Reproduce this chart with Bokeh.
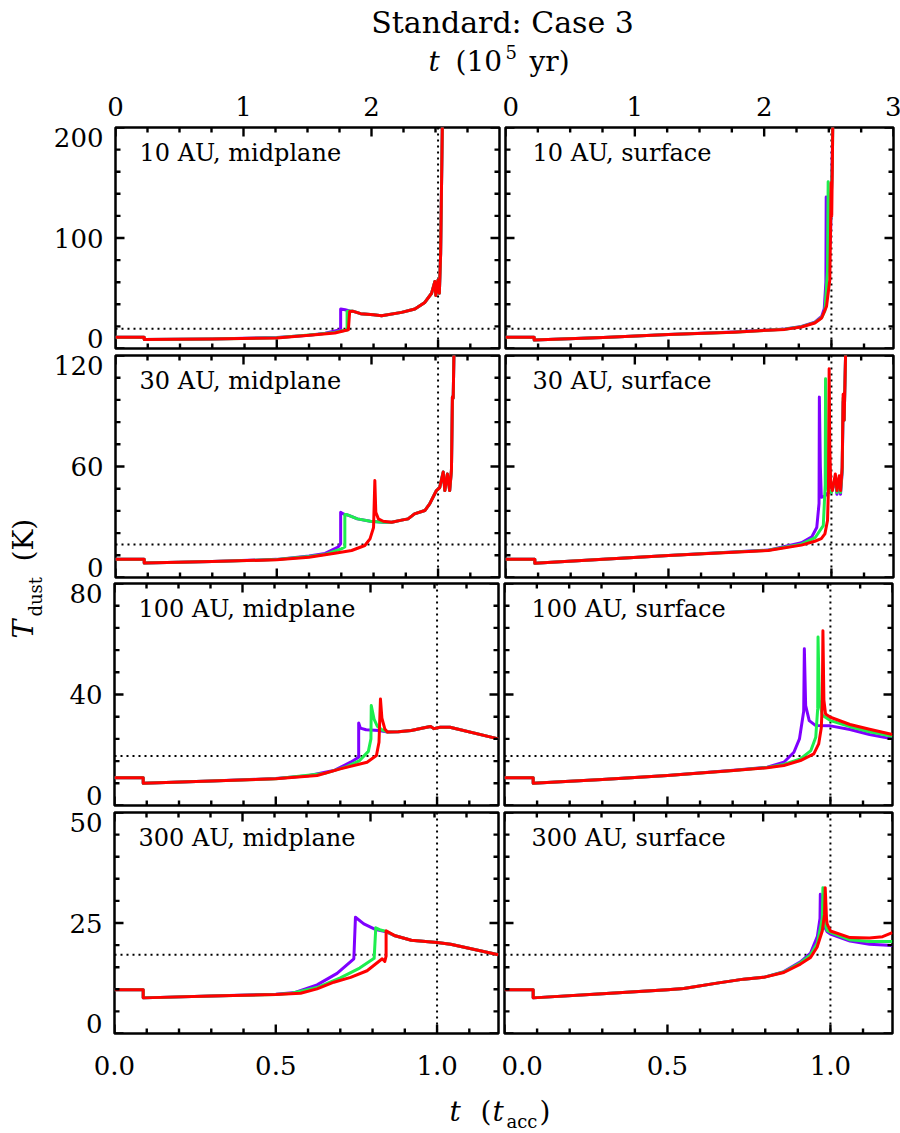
from math import pi, nan
from bokeh.plotting import figure
from bokeh.models import Range1d, FixedTicker, LinearAxis, Label, Span, PrintfTickFormatter, BoxAnnotation
from bokeh.layouts import column, row
from bokeh.embed import file_html
from bokeh.resources import INLINE

FONT = "DejaVu Serif"
PURPLE, GREEN, RED = "#7f00ff", "#1eee4e", "#ff0000"

# ---------------- axis definitions ----------------
t_acc_in_1e5yr = 2.52          # 1 t_acc in units of 1e5 yr
t_max_1e5yr = 3.0              # right end of each panel (1e5 yr)
t_ref = 1.0                    # vertical dotted line (t_acc)
T_ref = 17.8                   # horizontal dotted line (K)
radii = ["10 AU", "30 AU", "100 AU", "300 AU"]
layers = ["midplane", "surface"]
y_max = [200, 120, 80, 50]
y_major = [100, 60, 40, 25]
xticks_tacc = [0.0, 0.5, 1.0]
xticks_yr = [[0, 1, 2], [0, 1, 2, 3]]

# ---------------- data (t in t_acc, T_dust in K) ----------------
# 10 AU, midplane
t_10m_p = [0, 0.089, 0.089, 0.30, 0.50, 0.60, 0.65, 0.69, 0.698, 0.698, 0.712, 0.726, 0.735, 0.76, 0.80, 0.825, 0.887, 0.928, 0.959, 0.980, 0.990, 0.993, 1.000, 1.004, 1.008, 1.010, 1.013, 1.016]
T_10m_p = [10.2, 10.2, 8.1, 8.7, 9.9, 12.0, 13.8, 16.5, 17.0, 35.7, 35.0, 34.0, 33.8, 31.5, 30.5, 29.7, 32.7, 35.7, 41.7, 50.0, 60.6, 48.0, 62.0, 50.0, 86.0, 131.0, 197.0, 260.0]
t_10m_g = [0, 0.089, 0.089, 0.30, 0.50, 0.628, 0.68, 0.70, 0.718, 0.718, 0.726, 0.735, 0.76, 0.80, 0.825, 0.887, 0.928, 0.959, 0.980, 0.990, 0.993, 1.000, 1.004, 1.008, 1.010, 1.013, 1.016]
T_10m_g = [10.2, 10.2, 8.1, 8.6, 9.7, 12.8, 14.6, 15.8, 16.8, 33.5, 34.0, 33.8, 31.5, 30.5, 29.7, 32.7, 35.7, 41.7, 50.0, 60.6, 48.0, 62.0, 50.0, 86.0, 131.0, 197.0, 260.0]
t_10m_r = [0, 0.089, 0.089, 0.30, 0.50, 0.628, 0.68, 0.722, 0.726, 0.735, 0.76, 0.80, 0.825, 0.887, 0.928, 0.959, 0.980, 0.990, 0.993, 1.000, 1.004, 1.008, 1.010, 1.013, 1.016]
T_10m_r = [10.2, 10.2, 8.1, 8.6, 9.6, 12.6, 14.1, 17.0, 33.5, 33.8, 31.5, 30.5, 29.7, 32.7, 35.7, 41.7, 50.0, 60.6, 48.0, 62.0, 50.0, 86.0, 131.0, 197.0, 260.0]

# 10 AU, surface
t_10s_p = [0, 0.088, 0.088, 0.30, 0.50, 0.70, 0.857, 0.908, 0.949, 0.970, 0.978, 0.983, 0.984, 0.986, 0.990, 0.997, 1.003, 1.006]
T_10s_p = [10.2, 10.2, 7.8, 10.0, 12.6, 14.9, 17.6, 20.0, 23.8, 29.0, 36.0, 60.0, 137.0, 100.0, 80.0, 100.0, 180.0, 260.0]
t_10s_g = [0, 0.088, 0.088, 0.30, 0.50, 0.70, 0.857, 0.908, 0.949, 0.970, 0.980, 0.988, 0.990, 0.992, 0.997, 1.003, 1.006]
T_10s_g = [10.2, 10.2, 7.8, 10.0, 12.6, 14.8, 17.4, 19.8, 23.4, 28.0, 34.0, 70.0, 151.0, 110.0, 110.0, 170.0, 260.0]
t_10s_r = [0, 0.088, 0.088, 0.30, 0.50, 0.70, 0.857, 0.908, 0.949, 0.970, 0.985, 0.995, 0.997, 0.999, 1.001, 1.003, 1.006]
T_10s_r = [10.2, 10.2, 7.8, 10.0, 12.6, 14.8, 17.3, 19.5, 23.1, 27.6, 38.1, 62.0, 100.0, 150.0, 120.0, 170.0, 260.0]

# 30 AU, midplane
t_30m_p = [0, 0.089, 0.089, 0.30, 0.50, 0.60, 0.65, 0.69, 0.698, 0.698, 0.705, 0.712, 0.725, 0.75, 0.79, 0.83, 0.856, 0.887, 0.907, 0.927, 0.959, 0.974, 0.995, 1.005, 1.016, 1.021, 1.029, 1.036, 1.0415, 1.0445, 1.047, 1.050]
T_30m_p = [9.9, 9.9, 7.9, 8.6, 9.8, 11.6, 13.0, 16.5, 18.2, 35.3, 34.5, 34.0, 33.5, 31.7, 30.4, 29.9, 29.9, 31.0, 31.7, 34.4, 36.2, 39.8, 47.0, 48.6, 57.0, 47.0, 56.0, 47.0, 58.0, 97.5, 97.0, 130.0]
t_30m_g = [0, 0.089, 0.089, 0.30, 0.50, 0.60, 0.65, 0.70, 0.711, 0.711, 0.718, 0.725, 0.75, 0.79, 0.83, 0.856, 0.887, 0.907, 0.927, 0.959, 0.974, 0.995, 1.005, 1.016, 1.021, 1.029, 1.036, 1.0415, 1.0445, 1.047, 1.050]
T_30m_g = [9.9, 9.9, 7.9, 8.6, 9.7, 11.4, 12.5, 15.5, 16.5, 34.0, 34.0, 33.5, 31.7, 30.4, 29.9, 29.9, 31.0, 31.7, 34.4, 36.2, 39.8, 47.0, 48.6, 57.0, 47.0, 56.0, 47.0, 58.0, 97.5, 97.0, 130.0]
t_30m_r = [0, 0.089, 0.089, 0.30, 0.50, 0.60, 0.68, 0.732, 0.773, 0.789, 0.800, 0.804, 0.807, 0.815, 0.830, 0.856, 0.887, 0.907, 0.927, 0.959, 0.974, 0.995, 1.005, 1.016, 1.021, 1.029, 1.036, 1.0415, 1.0445, 1.047, 1.050]
T_30m_r = [9.9, 9.9, 7.9, 8.6, 9.6, 11.0, 13.1, 14.6, 17.3, 20.9, 27.0, 52.4, 35.3, 31.7, 30.4, 29.9, 31.0, 31.7, 34.4, 36.2, 39.8, 47.0, 48.6, 57.0, 47.0, 56.0, 47.0, 58.0, 97.5, 97.0, 130.0]

# 30 AU, surface
t_30s_p = [0, 0.09, 0.09, 0.30, 0.50, 0.806, 0.908, 0.940, 0.955, 0.962, 0.963, 0.966, 0.969, 0.980, 0.990, 1.000, 1.012, 1.017, 1.024, 1.028, 1.033, 1.036, 1.039, 1.044]
T_30s_p = [9.9, 9.9, 7.7, 9.8, 11.9, 14.8, 18.8, 22.0, 27.0, 40.0, 97.5, 60.0, 43.4, 44.0, 46.0, 46.0, 53.0, 45.0, 53.0, 45.0, 57.0, 95.0, 85.0, 125.0]
t_30s_g = [0, 0.09, 0.09, 0.30, 0.50, 0.806, 0.908, 0.950, 0.975, 0.981, 0.982, 0.985, 0.990, 1.000, 1.012, 1.017, 1.024, 1.028, 1.033, 1.036, 1.039, 1.044]
T_30s_g = [9.9, 9.9, 7.7, 9.8, 11.9, 14.7, 18.0, 21.5, 28.0, 50.0, 107.4, 60.0, 47.0, 46.0, 54.0, 46.0, 54.0, 46.0, 58.0, 97.0, 85.0, 125.0]
t_30s_r = [0, 0.09, 0.09, 0.30, 0.50, 0.806, 0.908, 0.949, 0.969, 0.980, 0.988, 0.991, 0.993, 0.995, 0.998, 1.003, 1.012, 1.017, 1.024, 1.028, 1.033, 1.036, 1.039, 1.044]
T_30s_r = [9.9, 9.9, 7.7, 9.8, 11.9, 14.6, 17.5, 19.6, 21.0, 23.6, 30.8, 48.6, 112.8, 70.0, 50.0, 47.0, 56.0, 47.0, 55.0, 47.0, 59.5, 99.0, 85.0, 125.0]

# 100 AU, midplane
t_100m_p = [0, 0.089, 0.089, 0.30, 0.50, 0.60, 0.68, 0.732, 0.757, 0.757, 0.762, 0.78, 0.82, 0.846, 0.88, 0.92, 0.96, 0.98, 0.99, 1.01, 1.04, 1.19]
T_100m_p = [10.0, 10.0, 8.0, 8.8, 9.7, 10.7, 12.6, 15.6, 17.4, 29.7, 27.9, 27.3, 27.0, 26.5, 26.6, 27.0, 28.0, 28.5, 27.7, 28.2, 28.2, 24.0]
t_100m_g = [0, 0.089, 0.089, 0.30, 0.50, 0.65, 0.72, 0.76, 0.787, 0.795, 0.796, 0.805, 0.815, 0.83, 0.846, 0.88, 0.92, 0.96, 0.98, 0.99, 1.01, 1.04, 1.19]
T_100m_g = [10.0, 10.0, 8.0, 8.8, 9.6, 11.5, 14.0, 16.2, 19.5, 24.0, 36.0, 31.0, 28.5, 27.2, 26.5, 26.6, 27.0, 28.0, 28.5, 27.7, 28.2, 28.2, 24.0]
t_100m_r = [0, 0.089, 0.089, 0.30, 0.50, 0.628, 0.70, 0.783, 0.812, 0.820, 0.8245, 0.829, 0.838, 0.846, 0.88, 0.92, 0.96, 0.98, 0.99, 1.01, 1.04, 1.19]
T_100m_r = [10.0, 10.0, 8.0, 8.8, 9.6, 10.8, 13.2, 15.6, 18.0, 22.8, 38.4, 31.5, 27.6, 26.5, 26.6, 27.0, 28.0, 28.5, 27.7, 28.2, 28.2, 24.0]

# 100 AU, surface
t_100s_p = [0, 0.088, 0.088, 0.30, 0.50, 0.703, 0.806, 0.857, 0.888, 0.905, 0.918, 0.920, 0.924, 0.935, 0.955, 1.00, 1.06, 1.12, 1.19]
T_100s_p = [10.0, 10.0, 8.0, 9.4, 10.8, 12.7, 13.8, 15.6, 19.2, 24.0, 34.0, 56.5, 36.0, 30.6, 28.8, 28.7, 27.4, 25.6, 24.0]
t_100s_g = [0, 0.088, 0.088, 0.30, 0.50, 0.703, 0.806, 0.857, 0.908, 0.940, 0.955, 0.961, 0.962, 0.966, 0.975, 1.00, 1.06, 1.12, 1.19]
T_100s_g = [10.0, 10.0, 8.0, 9.4, 10.8, 12.6, 13.7, 14.8, 16.8, 19.8, 24.6, 35.0, 60.7, 38.0, 32.5, 30.6, 28.4, 26.6, 24.9]
t_100s_r = [0, 0.088, 0.088, 0.30, 0.50, 0.703, 0.806, 0.857, 0.908, 0.949, 0.964, 0.972, 0.975, 0.977, 0.980, 0.985, 1.00, 1.06, 1.12, 1.19]
T_100s_r = [10.0, 10.0, 8.0, 9.4, 10.8, 12.6, 13.6, 14.4, 16.2, 18.6, 22.2, 28.0, 36.6, 63.0, 38.0, 33.0, 31.8, 29.2, 27.5, 25.6]

# 300 AU, midplane
t_300m_p = [0, 0.089, 0.089, 0.30, 0.50, 0.56, 0.628, 0.69, 0.742, 0.747, 0.773, 0.81, 0.842, 0.87, 0.92, 1.00, 1.042, 1.19]
T_300m_p = [9.9, 9.9, 8.06, 8.5, 8.9, 9.3, 11.0, 13.6, 16.9, 26.3, 24.8, 23.5, 23.0, 22.1, 21.1, 20.6, 20.2, 17.8]
t_300m_g = [0, 0.089, 0.089, 0.30, 0.50, 0.55, 0.628, 0.70, 0.76, 0.805, 0.81, 0.825, 0.842, 0.87, 0.92, 1.00, 1.042, 1.19]
T_300m_g = [9.9, 9.9, 8.06, 8.5, 8.8, 9.1, 10.4, 12.6, 14.8, 17.0, 23.9, 23.4, 23.1, 22.1, 21.1, 20.6, 20.2, 17.8]
t_300m_r = [0, 0.089, 0.089, 0.30, 0.50, 0.577, 0.628, 0.68, 0.732, 0.783, 0.830, 0.838, 0.842, 0.842, 0.87, 0.92, 1.00, 1.042, 1.19]
T_300m_r = [9.9, 9.9, 8.06, 8.5, 8.8, 9.1, 10.1, 11.6, 12.7, 14.2, 16.9, 16.3, 17.5, 23.25, 22.1, 21.1, 20.6, 20.2, 17.8]

# 300 AU, surface
t_300s_p = [0, 0.088, 0.088, 0.30, 0.50, 0.55, 0.652, 0.734, 0.795, 0.857, 0.908, 0.939, 0.960, 0.968, 0.969, 0.975, 0.990, 1.00, 1.06, 1.12, 1.19]
T_300s_p = [9.9, 9.9, 8.06, 9.0, 9.9, 10.2, 11.4, 12.3, 12.7, 14.0, 16.2, 18.2, 22.0, 26.0, 31.5, 25.0, 23.0, 22.5, 20.9, 20.2, 19.9]
t_300s_g = [0, 0.088, 0.088, 0.30, 0.50, 0.55, 0.652, 0.734, 0.795, 0.857, 0.908, 0.939, 0.960, 0.975, 0.977, 0.982, 0.990, 1.00, 1.06, 1.12, 1.19]
T_300s_g = [9.9, 9.9, 8.06, 9.0, 9.9, 10.2, 11.4, 12.3, 12.7, 13.9, 16.0, 17.8, 20.5, 26.0, 33.0, 25.0, 23.3, 22.9, 21.2, 20.8, 20.8]
t_300s_r = [0, 0.088, 0.088, 0.30, 0.50, 0.55, 0.652, 0.734, 0.795, 0.857, 0.908, 0.939, 0.959, 0.975, 0.982, 0.984, 0.988, 0.990, 1.00, 1.06, 1.12, 1.16, 1.19]
T_300s_r = [9.9, 9.9, 8.06, 9.0, 9.9, 10.2, 11.4, 12.3, 12.7, 13.8, 15.7, 17.2, 19.5, 23.2, 27.0, 33.0, 26.0, 24.8, 23.2, 21.7, 21.6, 21.9, 22.8]

panels = [
    [[(t_10m_p, T_10m_p), (t_10m_g, T_10m_g), (t_10m_r, T_10m_r)],
     [(t_10s_p, T_10s_p), (t_10s_g, T_10s_g), (t_10s_r, T_10s_r)]],
    [[(t_30m_p, T_30m_p), (t_30m_g, T_30m_g), (t_30m_r, T_30m_r)],
     [(t_30s_p, T_30s_p), (t_30s_g, T_30s_g), (t_30s_r, T_30s_r)]],
    [[(t_100m_p, T_100m_p), (t_100m_g, T_100m_g), (t_100m_r, T_100m_r)],
     [(t_100s_p, T_100s_p), (t_100s_g, T_100s_g), (t_100s_r, T_100s_r)]],
    [[(t_300m_p, T_300m_p), (t_300m_g, T_300m_g), (t_300m_r, T_300m_r)],
     [(t_300s_p, T_300s_p), (t_300s_g, T_300s_g), (t_300s_r, T_300s_r)]],
]

# ---------------- layout geometry (pixels) ----------------
YLAB_W = 50
FRAME_W = [384, 388]
FRAME_H = [221, 222, 222, 221]
BORDER_L = [64, 3]
BORDER_R = [3, 8]
BORDER_T = [47, 4, 3, 4]
BORDER_B = [3, 3, 3, 58]
HEADER_H = 80
FOOTER_H = 1133 - HEADER_H - sum(FRAME_H) - sum(BORDER_T) - sum(BORDER_B)
TICK_FS = "26px"
MAJ_LEN, MIN_LEN, TICK_W = 9, 5, 2.4
BASE_FIX = 0.35   # text box offset of alphabetic labels, in em


def label_axis(ticker, standoff, **kw):
    return LinearAxis(ticker=ticker, axis_line_color=None,
                      major_tick_in=0, major_tick_out=0, minor_tick_in=0, minor_tick_out=0,
                      major_tick_line_color=None, minor_tick_line_color=None,
                      major_label_text_font=FONT, major_label_text_font_size=TICK_FS,
                      major_label_text_color="black", major_label_standoff=standoff, **kw)


def tick_box(p, left, right, bottom, top):
    p.add_layout(BoxAnnotation(left=left, right=right, bottom=bottom, top=top,
                               fill_color="black", fill_alpha=1.0, line_color=None,
                               level="overlay", editable=False))


def make_panel(ri, ci):
    fw, fh = FRAME_W[ci], FRAME_H[ri]
    xmax = t_max_1e5yr / t_acc_in_1e5yr
    ymax, ymaj = y_max[ri], y_major[ri]
    p = figure(frame_width=fw, frame_height=fh, title=None,
               min_border_left=BORDER_L[ci], min_border_right=BORDER_R[ci],
               min_border_top=BORDER_T[ri], min_border_bottom=BORDER_B[ri],
               x_range=Range1d(0, xmax), y_range=Range1d(0, ymax),
               x_axis_type=None, y_axis_type=None,
               output_backend="svg", toolbar_location=None)
    p.extra_x_ranges = {"yr": Range1d(0, t_max_1e5yr)}
    p.outline_line_color = "black"
    p.outline_line_width = 2.5
    p.background_fill_color = "white"
    p.border_fill_color = "white"

    # reference lines
    p.add_layout(Span(location=t_ref, dimension="height", line_color="black",
                      line_width=2, line_dash="2 4", level="underlay"))
    p.add_layout(Span(location=T_ref, dimension="width", line_color="black",
                      line_width=2, line_dash="2 4", level="underlay"))

    for (t, Tv), c in zip(panels[ri][ci], [PURPLE, GREEN, RED]):
        p.line(t, Tv, line_color=c, line_width=3, line_join="round")

    # inward tick marks on all four sides, placed in data units
    px = xmax / fw            # data units per pixel (x)
    py = ymax / fh            # data units per pixel (y)
    hw = TICK_W / 2
    xmin_ticks = [round(0.1 * k, 2) for k in range(1, 12) if k % 5]
    tmin_ticks = [0.25 * k for k in range(1, 12) if k % 4]
    ymin_ticks = [ymaj / 5 * k for k in range(1, 10) if k % 5]
    for ticks, ln in ((xticks_tacc, MAJ_LEN), (xmin_ticks, MIN_LEN)):
        for v in ticks:
            tick_box(p, v - hw * px, v + hw * px, 0, ln * py)
    for ticks, ln in ((xticks_yr[ci], MAJ_LEN), (tmin_ticks, MIN_LEN)):
        for v in ticks:
            x = v / t_acc_in_1e5yr
            tick_box(p, x - hw * px, x + hw * px, ymax - ln * py, ymax)
    for ticks, ln in (([0, ymaj, 2 * ymaj], MAJ_LEN), (ymin_ticks, MIN_LEN)):
        for v in ticks:
            tick_box(p, 0, ln * px, v - hw * py, v + hw * py)
            tick_box(p, xmax - ln * px, xmax, v - hw * py, v + hw * py)

    # tick labels
    if ri == 3:
        ax = label_axis(FixedTicker(ticks=xticks_tacc, minor_ticks=[]), 22,
                        formatter=PrintfTickFormatter(format="%.1f"))
        p.add_layout(ax, "below")
    if ri == 0:
        ax = label_axis(FixedTicker(ticks=xticks_yr[ci], minor_ticks=[]), 12, x_range_name="yr")
        p.add_layout(ax, "above")
    if ci == 0:
        shift = 10 * ymax / fh
        lt = [shift, ymaj, ymax - shift]
        ax = label_axis(FixedTicker(ticks=lt, minor_ticks=[]), 12,
                        major_label_overrides={lt[0]: "0", lt[1]: str(ymaj), lt[2]: str(ymax)})
        p.add_layout(ax, "left")

    dx = [24, 27][ci]
    fs = 24
    p.add_layout(Label(x=dx / fw * xmax, y=ymax - (34 - BASE_FIX * fs) / fh * ymax,
                       text=f"{radii[ri]}, {layers[ci]}", text_font=FONT, text_color="black",
                       text_font_size=f"{fs}px", text_baseline="alphabetic", text_align="left"))
    return p


def blank(w, h):
    p = figure(frame_width=w, frame_height=h, title=None,
               x_range=Range1d(0, w), y_range=Range1d(0, h),
               x_axis_type=None, y_axis_type=None,
               min_border=0, min_border_left=0, min_border_right=0,
               min_border_top=0, min_border_bottom=0,
               output_backend="svg", toolbar_location=None)
    p.outline_line_color = None
    p.background_fill_color = "white"
    p.border_fill_color = "white"
    return p


def lab(p, x, y, text, size=28, style="normal", align="left"):
    """horizontal label; y is the wanted baseline (pixels from the bottom)"""
    p.add_layout(Label(x=x, y=y + BASE_FIX * size, text=text, text_font=FONT,
                       text_font_size=f"{size}px", text_font_style=style,
                       text_align=align, text_color="black", text_baseline="alphabetic"))


def vlab(p, x, y, text, size=28, style="normal"):
    """vertical label reading upwards; x is the glyph centre line"""
    p.add_layout(Label(x=x, y=y, text=text, text_font=FONT, text_font_size=f"{size}px",
                       text_font_style=style, text_align="left", text_color="black",
                       text_baseline="middle", angle=pi / 2))


grid_h = sum(FRAME_H) + sum(BORDER_T) + sum(BORDER_B)

header = blank(900, HEADER_H)
lab(header, 502, HEADER_H - 32, "Standard: Case 3", size=30, align="center")
lab(header, 428, HEADER_H - 71, "t", style="italic")
lab(header, 455, HEADER_H - 71, "(10")
lab(header, 505, HEADER_H - 58, "5", size=18)
lab(header, 529, HEADER_H - 71, "yr)")

footer = blank(900, FOOTER_H)
lab(footer, 449, 1133 - 1121, "t", style="italic")
lab(footer, 480, 1133 - 1121, "(")
lab(footer, 492, 1133 - 1121, "t", style="italic")
lab(footer, 506, 1133 - 1127, "acc", size=18)
lab(footer, 539, 1133 - 1121, ")")

ylab = blank(YLAB_W, grid_h)
yb = HEADER_H + grid_h  # page y of ylab bottom
vlab(ylab, 23, yb - 638, "T", style="italic")
vlab(ylab, 35, yb - 616, "dust", size=18)
vlab(ylab, 23, yb - 561, "(K)")

rows = [row(make_panel(ri, 0), make_panel(ri, 1)) for ri in range(4)]
layout = column(header, row(ylab, column(*rows)), footer)

open("out.html", "w").write(file_html(layout, INLINE))
